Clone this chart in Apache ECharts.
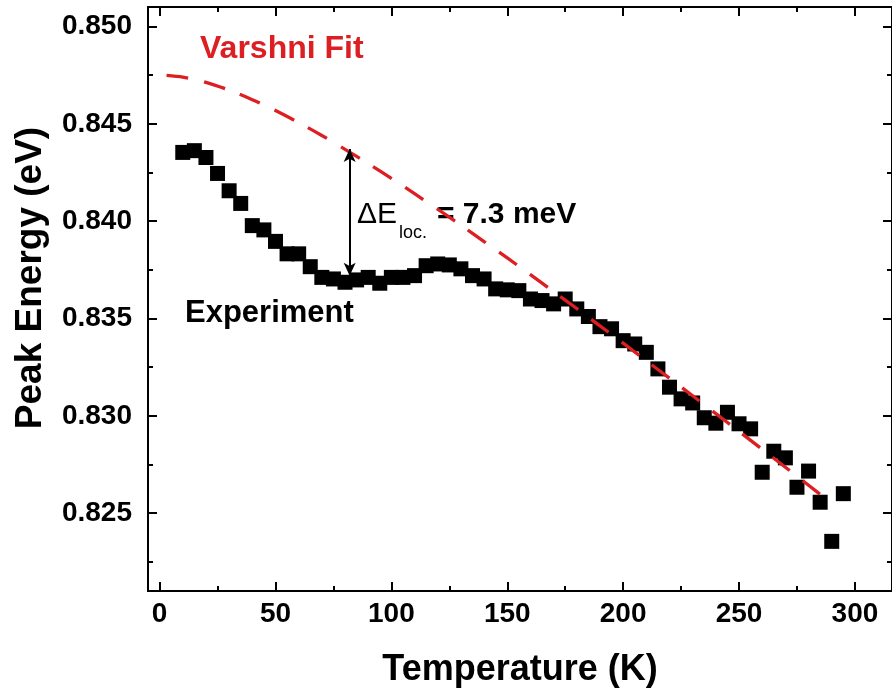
<!DOCTYPE html>
<html>
<head>
<meta charset="utf-8">
<script src="https://cdn.jsdelivr.net/npm/echarts@6/dist/echarts.min.js"></script>
<style>
  html, body { margin: 0; padding: 0; background: #fff; }
  #chart { width: 892px; height: 694px; }
</style>
</head>
<body>
<div id="chart"></div>
<script>
// Measured PL peak energy vs temperature
const expTemps = [10, 15, 20, 25, 30, 35, 40, 45, 50, 55, 60, 65, 70, 75, 80, 85, 90, 95, 100, 105,
  110, 115, 120, 125, 130, 135, 140, 145, 150, 155, 160, 165, 170, 175, 180, 185, 190, 195, 200, 205,
  210, 215, 220, 225, 230, 235, 240, 245, 250, 255, 260, 265, 270, 275, 280, 285, 290, 295];
const expEnergy = [0.84353, 0.84362, 0.84327, 0.84245, 0.84156, 0.84091, 0.83977, 0.83955, 0.83896, 0.83832,
  0.83832, 0.83766, 0.83711, 0.83703, 0.83686, 0.83698, 0.83711, 0.83681, 0.83711, 0.83711,
  0.83720, 0.83771, 0.83780, 0.83775, 0.83755, 0.83720, 0.83703, 0.83652, 0.83647, 0.83643,
  0.83600, 0.83592, 0.83575, 0.83600, 0.83549, 0.83510, 0.83458, 0.83447, 0.83386, 0.83369,
  0.83326, 0.83241, 0.83147, 0.83087, 0.83066, 0.82990, 0.82962, 0.83018, 0.82959, 0.82933,
  0.82710, 0.82818, 0.82784, 0.82633, 0.82716, 0.82556, 0.82355, 0.82600];

// Varshni fit curve
const fitTemps = [3, 10, 20, 30, 40, 50, 60, 70, 80, 90, 100, 110, 120, 130, 140, 150, 160, 170, 180,
  190, 200, 210, 220, 230, 240, 250, 260, 270, 280, 290];
const fitEnergy = [0.84749, 0.84740, 0.84713, 0.84673, 0.84624, 0.84568, 0.84506, 0.84440, 0.84369, 0.84296,
  0.84220, 0.84141, 0.84061, 0.83979, 0.83895, 0.83811, 0.83725, 0.83638, 0.83551, 0.83462,
  0.83373, 0.83283, 0.83193, 0.83103, 0.83011, 0.82920, 0.82828, 0.82736, 0.82643, 0.82550];

// Axis ticks
const xMajorTicks = [0, 50, 100, 150, 200, 250, 300];
const xMinorTicks = [25, 75, 125, 175, 225, 275];
const yMajorTicks = [0.825, 0.830, 0.835, 0.840, 0.845, 0.850];
const yMinorTicks = [0.8225, 0.8275, 0.8325, 0.8375, 0.8425, 0.8475];

// Localisation energy arrow (temperature, upper and lower energies)
const gapArrowTemp = 82;
const gapArrowUpper = 0.8437;
const gapArrowLower = 0.8372;

const FONT = '"Liberation Sans", Arial, sans-serif';
const RED = '#dc1f22';
const X_MIN = -5, X_MAX = 316, Y_MIN = 0.821, Y_MAX = 0.851;

const chart = echarts.init(document.getElementById('chart'), null, { renderer: 'canvas' });

function xAxisDef(position, ticks, len, withLabels) {
  return {
    type: 'value', position, min: X_MIN, max: X_MAX,
    axisLine: { show: true, onZero: false, lineStyle: { color: '#000', width: 2 } },
    axisTick: { show: true, inside: true, length: len, customValues: ticks, lineStyle: { color: '#000', width: 2 } },
    axisLabel: withLabels ? {
      show: true, customValues: ticks, color: '#000', fontSize: 28, fontWeight: 'bold',
      fontFamily: FONT, margin: 9
    } : { show: false },
    splitLine: { show: false }
  };
}
function yAxisDef(position, ticks, len, withLabels) {
  return {
    type: 'value', position, min: Y_MIN, max: Y_MAX,
    axisLine: { show: true, onZero: false, lineStyle: { color: '#000', width: 2 } },
    axisTick: { show: true, inside: true, length: len, customValues: ticks, lineStyle: { color: '#000', width: 2 } },
    axisLabel: withLabels ? {
      show: true, customValues: ticks, color: '#000', fontSize: 28, fontWeight: 'bold',
      fontFamily: FONT, margin: 16, formatter: v => v.toFixed(3)
    } : { show: false },
    splitLine: { show: false }
  };
}

const xMain = xAxisDef('bottom', xMajorTicks, 9, true);
xMain.name = 'Temperature (K)';
xMain.nameLocation = 'middle';
xMain.nameGap = 61;
xMain.nameTextStyle = { color: '#000', fontSize: 36, fontWeight: 'bold', fontFamily: FONT };

const option = {
  animation: false,
  backgroundColor: '#fff',
  grid: { left: 148, right: -1, top: 7, bottom: 103, containLabel: false },
  xAxis: [
    xMain,
    xAxisDef('bottom', xMinorTicks, 5, false),
    xAxisDef('top', xMajorTicks, 9, false),
    xAxisDef('top', xMinorTicks, 5, false)
  ],
  yAxis: [
    yAxisDef('left', yMajorTicks, 9, true),
    yAxisDef('left', yMinorTicks, 5, false),
    yAxisDef('right', yMajorTicks, 9, false),
    yAxisDef('right', yMinorTicks, 5, false)
  ],
  series: [
    {
      name: 'Experiment',
      type: 'scatter',
      xAxisIndex: 0, yAxisIndex: 0,
      symbol: 'rect',
      symbolSize: 15,
      itemStyle: { color: '#000', opacity: 1 },
      data: expTemps.map((t, i) => [t, expEnergy[i]]),
      z: 2,
      markLine: {
        silent: true,
        symbol: ['arrow', 'arrow'],
        symbolSize: [9, 13],
        label: { show: false },
        lineStyle: { color: '#000', width: 2, type: 'solid' },
        data: [[
          { coord: [gapArrowTemp, gapArrowUpper] },
          { coord: [gapArrowTemp, gapArrowLower] }
        ]]
      }
    },
    {
      name: 'Varshni Fit',
      type: 'line',
      xAxisIndex: 0, yAxisIndex: 0,
      showSymbol: false,
      smooth: 0.3,
      lineStyle: { color: RED, width: 3.3, type: [22, 16] },
      data: fitTemps.map((t, i) => [t, fitEnergy[i]]),
      z: 3
    }
  ],
  graphic: [
    {
      type: 'text', x: 31, y: 278, rotation: Math.PI / 2,
      style: { text: 'Peak Energy (eV)', fill: '#000', font: 'bold 37px ' + FONT, align: 'center', verticalAlign: 'middle' }
    },
    { type: 'text', left: 200, top: 33, style: { text: 'Varshni Fit', fill: RED, font: 'bold 32px ' + FONT } },
    { type: 'text', left: 185, top: 298, style: { text: 'Experiment', fill: '#000', font: 'bold 31px ' + FONT } },
    { type: 'text', left: 357, top: 200, style: { text: 'ΔE', fill: '#000', font: '30px ' + FONT } },
    { type: 'text', left: 399, top: 224, style: { text: 'loc.', fill: '#000', font: '18px ' + FONT } },
    { type: 'text', left: 437, top: 200, style: { text: '= 7.3 meV', fill: '#000', font: 'bold 30px ' + FONT } }
  ]
};

chart.setOption(option);
</script>
</body>
</html>
